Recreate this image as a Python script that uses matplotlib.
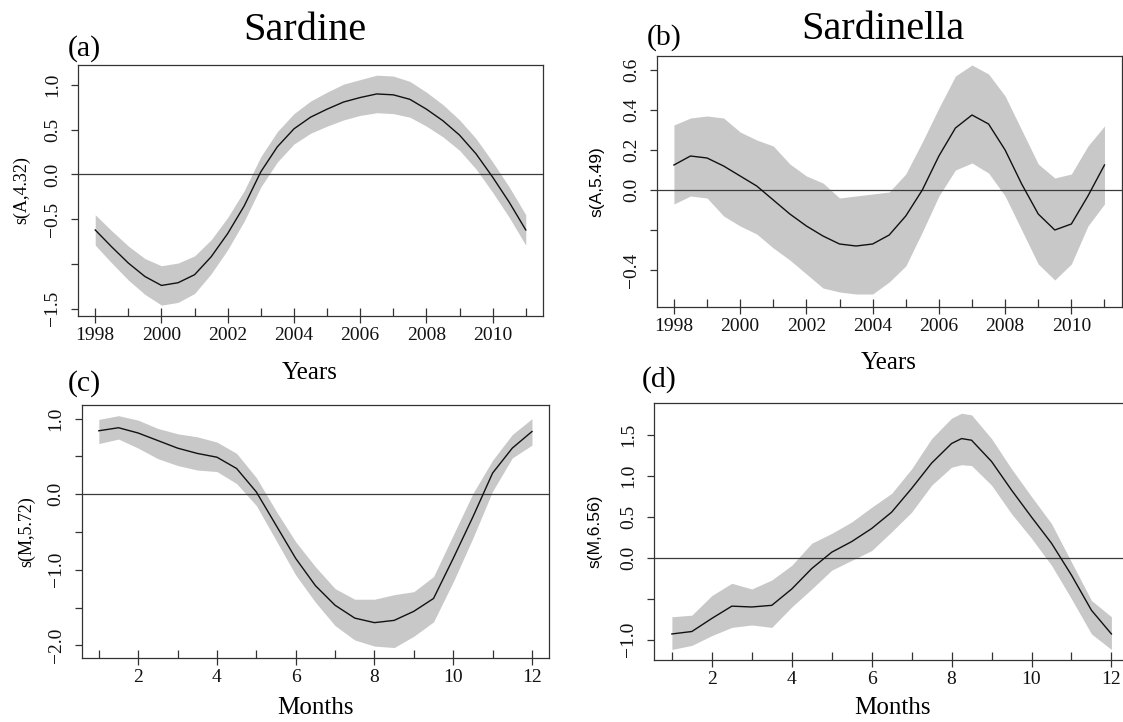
import matplotlib
matplotlib.use("Agg")
import matplotlib.pyplot as plt

# ---------------- data ----------------
years = [1998.0, 1998.5, 1999.0, 1999.5, 2000.0, 2000.5, 2001.0, 2001.5, 2002.0,
         2002.5, 2003.0, 2003.5, 2004.0, 2004.5, 2005.0, 2005.5, 2006.0, 2006.5,
         2007.0, 2007.5, 2008.0, 2008.5, 2009.0, 2009.5, 2010.0, 2010.5, 2011.0]
months = [1.0, 1.5, 2.0, 2.5, 3.0, 3.5, 4.0, 4.5, 5.0, 5.5, 6.0, 6.5, 7.0, 7.5,
          8.0, 8.5, 9.0, 9.5, 10.0, 10.5, 11.0, 11.5, 12.0]
months_d = [1.0, 1.5, 2.0, 2.5, 3.0, 3.5, 4.0, 4.5, 5.0, 5.5, 6.0, 6.5, 7.0, 7.5,
            8.0, 8.25, 8.5, 9.0, 9.5, 10.0, 10.5, 11.0, 11.5, 12.0]

# (a) Sardine, year effect
fit_a = [-0.62, -0.81, -0.99, -1.14, -1.24, -1.21, -1.12, -0.92, -0.66, -0.35,
         0.03, 0.31, 0.51, 0.64, 0.73, 0.81, 0.86, 0.90, 0.89, 0.84, 0.73, 0.60,
         0.44, 0.23, -0.03, -0.31, -0.62]
hw_a = [0.17, 0.18, 0.19, 0.20, 0.22, 0.22, 0.21, 0.19, 0.18, 0.17, 0.17, 0.17,
        0.17, 0.18, 0.19, 0.20, 0.20, 0.21, 0.21, 0.20, 0.19, 0.18, 0.17, 0.17,
        0.17, 0.17, 0.17]

# (b) Sardinella, year effect
fit_b = [0.125, 0.17, 0.16, 0.12, 0.07, 0.02, -0.05, -0.12, -0.18, -0.23, -0.27,
         -0.28, -0.27, -0.225, -0.13, 0.0, 0.17, 0.31, 0.375, 0.33, 0.20, 0.03,
         -0.12, -0.20, -0.17, -0.03, 0.125]
up_b = [0.325, 0.36, 0.37, 0.36, 0.29, 0.25, 0.22, 0.13, 0.07, 0.035, -0.04,
        -0.03, -0.02, -0.01, 0.08, 0.24, 0.41, 0.57, 0.625, 0.58, 0.47, 0.30,
        0.13, 0.06, 0.08, 0.22, 0.32]
lo_b = [-0.07, -0.03, -0.04, -0.13, -0.18, -0.22, -0.29, -0.35, -0.42, -0.49,
        -0.51, -0.52, -0.52, -0.46, -0.38, -0.21, -0.03, 0.10, 0.135, 0.085,
        -0.03, -0.20, -0.37, -0.45, -0.37, -0.18, -0.07]

# (c) Sardine, month effect
fit_c = [0.84, 0.88, 0.81, 0.71, 0.61, 0.54, 0.49, 0.34, 0.03, -0.41, -0.85,
         -1.21, -1.47, -1.64, -1.70, -1.67, -1.55, -1.38, -0.85, -0.30, 0.28,
         0.61, 0.83]
up_c = [0.99, 1.04, 0.98, 0.87, 0.80, 0.76, 0.69, 0.54, 0.22, -0.22, -0.63,
        -0.96, -1.25, -1.39, -1.39, -1.33, -1.29, -1.09, -0.54, 0.01, 0.45,
        0.79, 1.00]
lo_c = [0.67, 0.73, 0.61, 0.47, 0.38, 0.32, 0.30, 0.14, -0.15, -0.61, -1.07,
        -1.43, -1.74, -1.93, -2.01, -2.03, -1.88, -1.69, -1.16, -0.58, 0.04,
        0.48, 0.65]

# (d) Sardinella, month effect
fit_d = [-0.93, -0.90, -0.74, -0.59, -0.60, -0.58, -0.38, -0.13, 0.07, 0.20,
         0.36, 0.56, 0.85, 1.16, 1.40, 1.46, 1.44, 1.18, 0.83, 0.50, 0.18, -0.21,
         -0.64, -0.93]
up_d = [-0.72, -0.70, -0.46, -0.31, -0.38, -0.27, -0.09, 0.18, 0.30, 0.44,
        0.62, 0.79, 1.09, 1.46, 1.71, 1.77, 1.75, 1.46, 1.09, 0.75, 0.42, -0.05,
        -0.52, -0.72]
lo_d = [-1.12, -1.07, -0.95, -0.85, -0.82, -0.85, -0.60, -0.38, -0.15, -0.03,
        0.09, 0.32, 0.56, 0.89, 1.11, 1.14, 1.13, 0.89, 0.54, 0.24, -0.09, -0.50,
        -0.93, -1.12]

rug_years = list(range(1998, 2012))
rug_months = list(range(1, 13))

year_ticks = [1998, 2000, 2002, 2004, 2006, 2008, 2010]
month_ticks = [2, 4, 6, 8, 10, 12]

yt_a = [-1.5, -1.0, -0.5, 0.0, 0.5, 1.0]
yl_a = ["\u22121.5", "", "\u22120.5", "0.0", "0.5", "1.0"]
yt_b = [-0.4, -0.2, 0.0, 0.2, 0.4, 0.6]
yl_b = ["\u22120.4", "", "0.0", "0.2", "0.4", "0.6"]
yt_c = [-2.0, -1.5, -1.0, -0.5, 0.0, 0.5, 1.0]
yl_c = ["\u22122.0", "", "\u22121.0", "", "0.0", "", "1.0"]
yt_d = [-1.0, -0.5, 0.0, 0.5, 1.0, 1.5]
yl_d = ["\u22121.0", "", "0.0", "0.5", "1.0", "1.5"]

titles = ["Sardine", "Sardinella"]
ylabels = ["s(A,4.32)", "s(A,5.49)", "s(M,5.72)", "s(M,6.56)"]
panel_letters = ["(a)", "(b)", "(c)", "(d)"]

# ---------------- figure ----------------
W, H = 1123, 722
fig = plt.figure(figsize=(W / 100, H / 100), dpi=100)
SERIF = ["Liberation Serif", "DejaVu Serif"]
SANS = ["Liberation Sans", "DejaVu Sans"]
EDGE = "#333333"
BAND = "#c8c8c8"


def add_axes_px(left, right, top, bottom):
    return fig.add_axes([left / W, 1 - bottom / H, (right - left) / W, (bottom - top) / H])


def style(ax, xlim, ylim, xt, yt, yl, rug):
    ax.set_xlim(*xlim)
    ax.set_ylim(*ylim)
    for s in ax.spines.values():
        s.set_color(EDGE)
        s.set_linewidth(0.9)
    ax.set_xticks(xt)
    ax.set_xticklabels([str(v) for v in xt], family=SERIF, fontsize=14)
    ax.set_yticks(yt)
    ax.set_yticklabels(yl, family=SERIF, fontsize=14, rotation=90, va="center")
    ax.tick_params(axis="both", direction="out", length=5.2, width=0.9, color=EDGE,
                   labelcolor="#111111")
    ax.tick_params(axis="x", pad=3)
    ax.tick_params(axis="y", pad=7)
    ax.axhline(0, color="#3a3a3a", lw=0.9, zorder=3)
    ax.vlines(rug, 0, 0.03, transform=ax.get_xaxis_transform(), color=EDGE, lw=0.9,
              zorder=4)


def draw(ax, x, fit, lo, up):
    ax.fill_between(x, lo, up, color=BAND, lw=0, zorder=1)
    ax.plot(x, fit, color="#111111", lw=1.0, zorder=5, solid_joinstyle="round")


# (a)
ax_a = add_axes_px(78, 543, 65, 316)
draw(ax_a, years, fit_a, [f - h for f, h in zip(fit_a, hw_a)], [f + h for f, h in zip(fit_a, hw_a)])
style(ax_a, (1997.48, 2011.52), (-1.5816, 1.2235), year_ticks, yt_a, yl_a, rug_years)

# (b)
ax_b = add_axes_px(656.7, 1121.7, 56, 306.7)
draw(ax_b, years, fit_b, lo_b, up_b)
style(ax_b, (1997.48, 2011.52), (-0.5835, 0.67), year_ticks, yt_b, yl_b, rug_years)

# (c)
ax_c = add_axes_px(81.5, 549.3, 405.3, 658)
draw(ax_c, months, fit_c, lo_c, up_c)
style(ax_c, (0.56, 12.44), (-2.168, 1.177), month_ticks, yt_c, yl_c, rug_months)

# (d)
ax_d = add_axes_px(654.3, 1129, 402.7, 659.7)
draw(ax_d, months_d, fit_d, lo_d, up_d)
style(ax_d, (0.56, 12.44), (-1.245, 1.899), month_ticks, yt_d, yl_d, rug_months)


def ftext(xpx, ypx, s, **kw):
    fig.text(xpx / W, 1 - ypx / H, s, **kw)


# titles
ftext(305, 40.5, titles[0], family=SERIF, fontsize=29, ha="center", va="baseline")
ftext(883, 39.3, titles[1], family=SERIF, fontsize=29, ha="center", va="baseline")

# panel letters
ftext(68, 56, panel_letters[0], family=SERIF, fontsize=21.5, ha="left", va="baseline")
ftext(646.5, 45, panel_letters[1], family=SERIF, fontsize=21.5, ha="left", va="baseline")
ftext(68, 391, panel_letters[2], family=SERIF, fontsize=21.5, ha="left", va="baseline")
ftext(641.5, 387, panel_letters[3], family=SERIF, fontsize=21.5, ha="left", va="baseline")

# x labels
ftext(310, 379, "Years", family=SERIF, fontsize=18, ha="center", va="baseline")
ftext(889, 369, "Years", family=SERIF, fontsize=18, ha="center", va="baseline")
ftext(315, 714.5, "Months", family=SERIF, fontsize=18, ha="center", va="baseline")
ftext(892, 714.5, "Months", family=SERIF, fontsize=18, ha="center", va="baseline")

# y labels
ftext(22, 190.5, ylabels[0], family=SERIF, fontsize=13, rotation=90, ha="center", va="center")
ftext(597, 181.3, ylabels[1], family=SANS, fontsize=12.5, rotation=90, ha="center", va="center")
ftext(27, 531.7, ylabels[2], family=SERIF, fontsize=13, rotation=90, ha="center", va="center")
ftext(595, 531.2, ylabels[3], family=SANS, fontsize=12.5, rotation=90, ha="center", va="center")

fig.savefig("out.png", dpi=100, facecolor="white")
